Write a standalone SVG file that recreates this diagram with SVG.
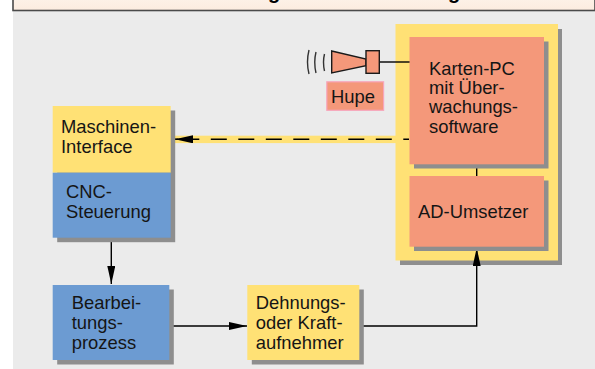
<svg xmlns="http://www.w3.org/2000/svg" width="595" height="369" viewBox="0 0 595 369">
<style>
text{font-family:"Liberation Sans",Arial,sans-serif;font-size:18.4px;fill:#151515}
.sh{fill:#8e8e8e}
.y{fill:#ffe175}.s{fill:#f4987a}.b{fill:#6c9bd2}
.l{fill:none;stroke:#000;stroke-width:1.4}
.h{fill:#f4987a;stroke:#1a1a1a;stroke-width:1.4}
.w{fill:none;stroke:#333;stroke-width:1.4}
</style>
<defs>
<linearGradient id="t" x1="0" y1="0" x2="0" y2="1"><stop offset="0" stop-color="#fdf3ea"/><stop offset="1" stop-color="#fcecdf"/></linearGradient>
<marker id="a" markerUnits="userSpaceOnUse" markerWidth="18" markerHeight="8" refX="18" refY="4" orient="auto"><path d="M0 0L18 4L0 8Z" fill="#000"/></marker>
</defs>
<rect width="595" height="369" fill="#fff"/>
<rect x="13" y="10" width="582" height="359" fill="#ebebeb"/>
<g id="title"><rect x="13" y="-5" width="582" height="15.500" fill="url(#t)" stroke="#4a4a4a" stroke-width="1.600"/><text x="268" y="-1" style="font-size:20px;font-weight:bold;fill:#000">g</text><text x="448" y="-1" style="font-size:20px;font-weight:bold;fill:#000">g</text></g>
<rect x="174" y="135.700" width="222" height="7.400" class="y"/>
<g id="container"><rect x="400" y="29" width="162" height="236" class="sh"/><rect x="395.500" y="24" width="162.500" height="236.500" class="y"/></g>
<g id="connectors">
<path d="M409 139.300H189" class="l" stroke-dasharray="16 11.500" stroke-dashoffset="10.300"/>
<path d="M191 139.300H175" class="l" marker-end="url(#a)"/>
<path d="M178 139.300H171" class="l"/>
<path d="M380 62H410" class="l"/>
<path d="M476.700 164V177" class="l"/>
<path d="M111.300 238V284" class="l" marker-end="url(#a)"/>
<path d="M170 326H247" class="l" marker-end="url(#a)"/>
<path d="M359.500 326H476.700V248" class="l" marker-end="url(#a)"/>
</g>
<g id="karten-pc"><rect x="414" y="41.500" width="134.500" height="127" class="sh"/><rect x="409.500" y="37" width="134.500" height="127.300" class="s"/>
<text x="429" y="75">Karten-PC</text><text x="429" y="94">mit Über-</text><text x="429" y="113">wachungs-</text><text x="429" y="133">software</text></g>
<g id="ad-umsetzer"><rect x="414" y="180.500" width="134.500" height="70.500" class="sh"/><rect x="409.500" y="176" width="134.500" height="70.700" class="s"/>
<text x="418" y="218">AD-Umsetzer</text></g>
<g id="horn"><path d="M331.700 51L366 59V65.700L331.700 73Z" class="h"/><rect x="366" y="50.700" width="13.300" height="22.600" class="h"/>
<path d="M309 50Q306 62 309 74M316 52Q313.500 62 316 73M324.500 54Q322.500 62 324.500 71" class="w"/></g>
<g id="hupe"><rect x="326.800" y="81.800" width="56.800" height="28.500" class="s" stroke="#f7a6bc" stroke-width="1.200"/><text x="331" y="103">Hupe</text></g>
<g id="maschinen-interface"><rect x="57.200" y="110.500" width="118" height="131.700" class="sh"/><rect x="52.700" y="106" width="118" height="66.700" class="y"/>
<text x="61" y="133">Maschinen-</text><text x="61" y="153">Interface</text></g>
<g id="cnc-steuerung"><rect x="52.700" y="172.700" width="118" height="65" class="b"/>
<text x="66" y="198">CNC-</text><text x="66" y="218">Steuerung</text></g>
<g id="bearbeitungsprozess"><rect x="57.200" y="289.500" width="116.600" height="75" class="sh"/><rect x="52.700" y="285" width="116.600" height="75" class="b"/>
<text x="71.700" y="309">Bearbei-</text><text x="71.700" y="329">tungs-</text><text x="71.700" y="349">prozess</text></g>
<g id="aufnehmer"><rect x="251.800" y="289.500" width="112" height="75" class="sh"/><rect x="247.300" y="285" width="112" height="75" class="y"/>
<text x="255.700" y="309">Dehnungs-</text><text x="255.700" y="329">oder Kraft-</text><text x="255.700" y="349">aufnehmer</text></g>
</svg>
